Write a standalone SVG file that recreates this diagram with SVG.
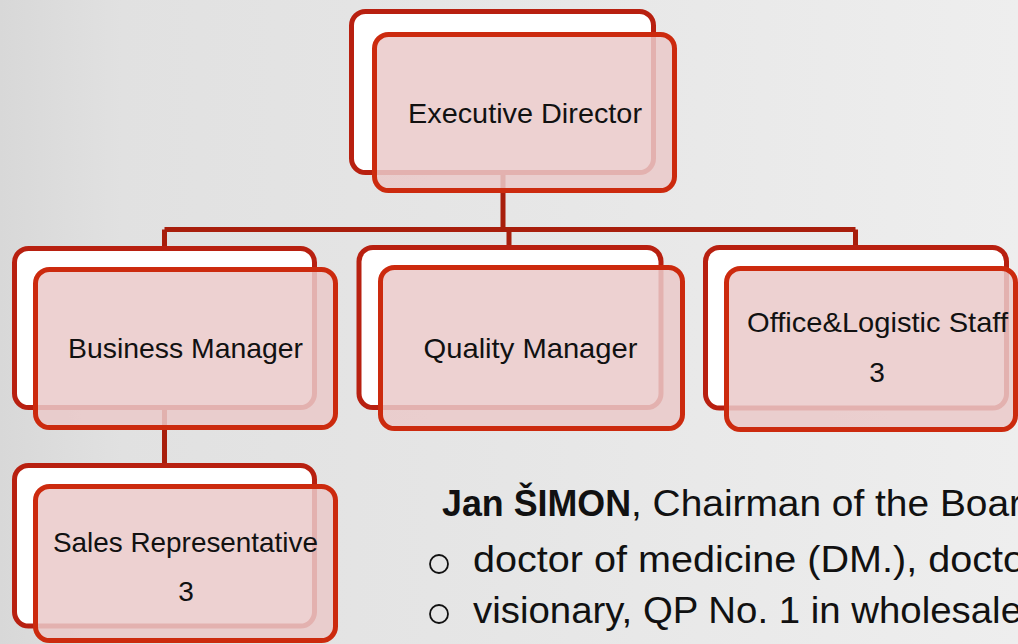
<svg xmlns="http://www.w3.org/2000/svg" width="1018" height="644" viewBox="0 0 1018 644">
  <defs>
    <linearGradient id="bg" x1="0" y1="0" x2="1" y2="0">
      <stop offset="0" stop-color="#d8d8d8"/>
      <stop offset="0.12" stop-color="#e1e1e1"/>
      <stop offset="0.5" stop-color="#e6e6e6"/>
      <stop offset="1" stop-color="#eeeeee"/>
    </linearGradient>
  </defs>
  <style>
    .back { fill: #ffffff; stroke: #b82010; stroke-width: 5; }
    .front { fill: #eac9c9; fill-opacity: 0.86; stroke: #cc2a0e; stroke-width: 5; }
    .conn { fill: none; stroke: #a81e0c; stroke-width: 5; }
    .lbl { font-family: "Liberation Sans", Arial, sans-serif; font-size: 28px; fill: #111111; }
    .body { font-family: "Liberation Sans", Arial, sans-serif; font-size: 37px; fill: #111111; }
    .bold { font-weight: bold; }
    .bullet { fill: none; stroke: #111111; stroke-width: 1.8; }
  </style>
  <rect x="0" y="0" width="1018" height="644" fill="url(#bg)"/>

  <g id="connectors">
    <path class="conn" d="M503,150 V229.5"/>
    <path class="conn" d="M164.5,229.5 H855.5"/>
    <path class="conn" d="M164.5,229.5 V260"/>
    <path class="conn" d="M509,229.5 V260"/>
    <path class="conn" d="M855.5,229.5 V260"/>
    <path class="conn" d="M164.5,400 V478"/>
  </g>

  <g id="executive-director">
    <rect class="back" x="351.5" y="11.5" width="302" height="161" rx="14"/>
    <rect class="front" x="374.5" y="34.5" width="300" height="156" rx="14"/>
    <text class="lbl" x="408" y="123" textLength="234" lengthAdjust="spacingAndGlyphs">Executive Director</text>
  </g>

  <g id="business-manager">
    <rect class="back" x="14.5" y="248.5" width="300" height="159" rx="14"/>
    <rect class="front" x="35.5" y="269.5" width="300" height="158" rx="14"/>
    <text class="lbl" x="68" y="357.5" textLength="235" lengthAdjust="spacingAndGlyphs">Business Manager</text>
  </g>

  <g id="quality-manager">
    <rect class="back" x="359" y="247.5" width="302" height="160" rx="14"/>
    <rect class="front" x="380.5" y="267.5" width="302" height="161" rx="14"/>
    <text class="lbl" x="423.5" y="357.5" textLength="214" lengthAdjust="spacingAndGlyphs">Quality Manager</text>
  </g>

  <g id="office-logistic-staff">
    <rect class="back" x="705.5" y="247.5" width="301" height="160.5" rx="14"/>
    <rect class="front" x="726.5" y="268.5" width="289" height="161" rx="14"/>
    <text class="lbl" x="747" y="332" textLength="261" lengthAdjust="spacingAndGlyphs">Office&amp;Logistic Staff</text>
    <text class="lbl" x="877" y="382" text-anchor="middle">3</text>
  </g>

  <g id="sales-representative">
    <rect class="back" x="14.5" y="465.5" width="300" height="160.5" rx="14"/>
    <rect class="front" x="35.5" y="486.5" width="300" height="154" rx="14"/>
    <text class="lbl" x="53" y="552" textLength="265" lengthAdjust="spacingAndGlyphs">Sales Representative</text>
    <text class="lbl" x="186" y="601" text-anchor="middle">3</text>
  </g>

  <g id="chairman-text">
    <text class="body bold" x="442" y="516" textLength="189" lengthAdjust="spacingAndGlyphs">Jan ŠIMON</text>
    <text class="body" x="631" y="516" textLength="391" lengthAdjust="spacingAndGlyphs">, Chairman of the Boar</text>
    <circle class="bullet" cx="439" cy="564" r="9"/>
    <text class="body" x="473" y="572" textLength="552" lengthAdjust="spacingAndGlyphs">doctor of medicine (DM.), docto</text>
    <circle class="bullet" cx="439" cy="614" r="9"/>
    <text class="body" x="473" y="623" textLength="549" lengthAdjust="spacingAndGlyphs">visionary, QP No. 1 in wholesale</text>
  </g>
</svg>
